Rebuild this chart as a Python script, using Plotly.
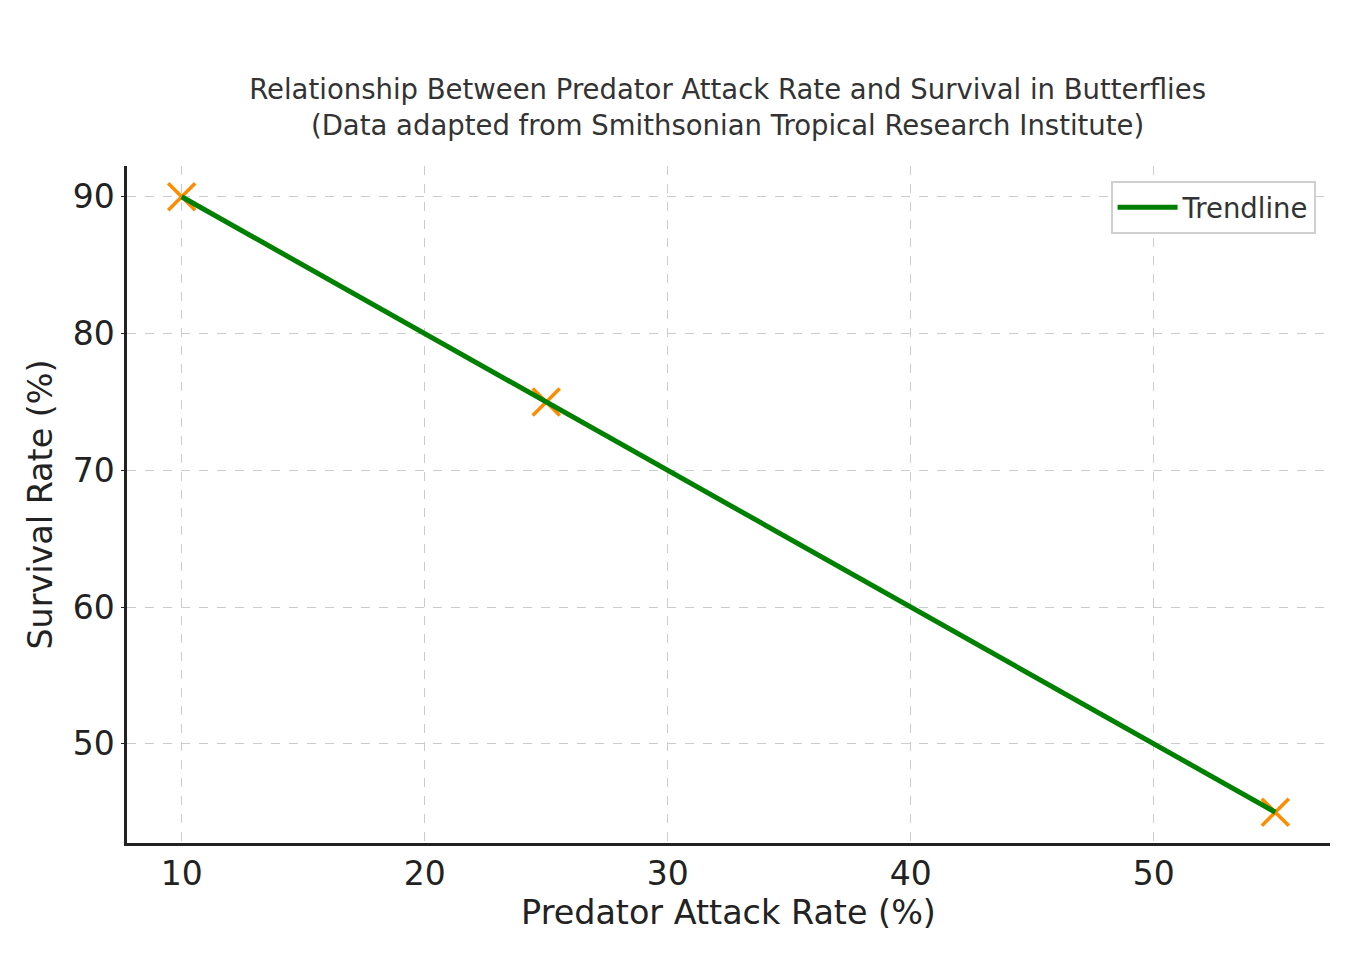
import plotly.graph_objects as go

attack_rate = [10, 25, 55]
survival_rate = [90, 75, 45]
trend_x = [10, 55]
trend_y = [90, 45]

title_text = "Relationship Between Predator Attack Rate and Survival in Butterflies<br>(Data adapted from Smithsonian Tropical Research Institute)"

fig = go.Figure()
fig.add_trace(go.Scatter(
    x=attack_rate, y=survival_rate, mode="markers", showlegend=False,
    marker=dict(symbol="x-thin", size=27, line=dict(color="#FF8C00", width=3.5), color="#FF8C00"),
))
fig.add_trace(go.Scatter(
    x=trend_x, y=trend_y, mode="lines", name="Trendline",
    line=dict(color="green", width=5),
))

font_family = "DejaVu Sans"
fig.update_layout(
    width=1360, height=960,
    paper_bgcolor="white", plot_bgcolor="white",
    margin=dict(l=127, r=30, t=166, b=117),
    font=dict(family=font_family, color="#222222"),
    title=dict(text=title_text, x=0.535, xanchor="center", y=0.897, yanchor="top",
               font=dict(size=27.5, color="#333333", family=font_family)),
    legend=dict(x=0.988, y=0.978, xanchor="right", yanchor="top",
                bgcolor="white", bordercolor="#d0d0d0", borderwidth=2,
                itemwidth=60,
                font=dict(size=27.5, color="#333333")),
    showlegend=True,
)
fig.update_xaxes(
    range=[7.75, 57.25], tickvals=[10, 20, 30, 40, 50],
    title=dict(text="Predator Attack Rate (%)", font=dict(size=33.4), standoff=8),
    tickfont=dict(size=33), showgrid=True, gridcolor="#cccccc", griddash="dash", gridwidth=1,
    showline=True, linecolor="#222222", linewidth=2.5, ticks="",
    zeroline=False, mirror=False,
)
fig.update_yaxes(
    range=[42.75, 92.25], tickvals=[50, 60, 70, 80, 90],
    title=dict(text="Survival Rate (%)", font=dict(size=33.4), standoff=10),
    tickfont=dict(size=33), showgrid=True, gridcolor="#cccccc", griddash="dash", gridwidth=1,
    showline=True, linecolor="#222222", linewidth=2.5, ticks="outside", ticklen=3,
    tickcolor="#222222", zeroline=False,
)
fig.write_html("out.html")
